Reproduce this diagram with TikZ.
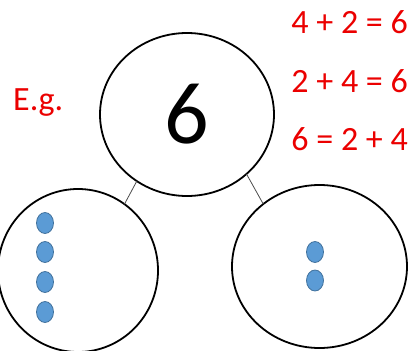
\documentclass[tikz,border=0pt]{standalone}
\usepackage{fontspec}
\setmainfont{Carlito}
\usetikzlibrary{shapes.geometric}

\definecolor{dotfill}{RGB}{91,155,213}
\definecolor{dotline}{RGB}{65,113,156}
\definecolor{sumred}{RGB}{235,0,0}

\tikzset{
  part/.style={ellipse, draw=black, line width=1.8pt, inner sep=0pt, outer sep=0pt},
  counter/.style={ellipse, fill=dotfill, draw=dotline, line width=0.8pt, minimum width=17pt, minimum height=21pt, inner sep=0pt},
  sum/.style={text=sumred, font=\fontsize{34}{34}\selectfont, anchor=base east, inner sep=0pt},
  link/.style={draw=black!70, line width=0.8pt}
}

\begin{document}
\begin{tikzpicture}[x=1pt,y=-1pt]
\useasboundingbox (0,0) rectangle (413,351);
\node[part, minimum width=174pt, minimum height=163pt, font=\fontsize{88}{88}\selectfont] (whole) at (187,114.5) {6};
\node[part, minimum width=160pt, minimum height=163pt] (partA) at (78,270.5) {};
\node[part, minimum width=175pt, minimum height=163pt] (partB) at (319.5,266.5) {};
\draw[link] (whole.233) -- (partA.55);
\draw[link] (whole.315) -- (partB.132);
\node[counter] (a1) at (45,223) {};
\node[counter] (a2) at (45,252) {};
\node[counter] (a3) at (45,282) {};
\node[counter] (a4) at (45,312) {};
\node[counter] (b1) at (315,252) {};
\node[counter] (b2) at (315,280.5) {};
\node[text=sumred, font=\fontsize{34}{34}\selectfont, anchor=base west, inner sep=0pt] (eg) at (13,110) {E.g.};
\node[sum] (eqA) at (408,33) {4 + 2 = 6};
\node[sum] (eqB) at (408,92) {2 + 4 = 6};
\node[sum] (eqC) at (408,150) {6 = 2 + 4};
\end{tikzpicture}
\end{document}
